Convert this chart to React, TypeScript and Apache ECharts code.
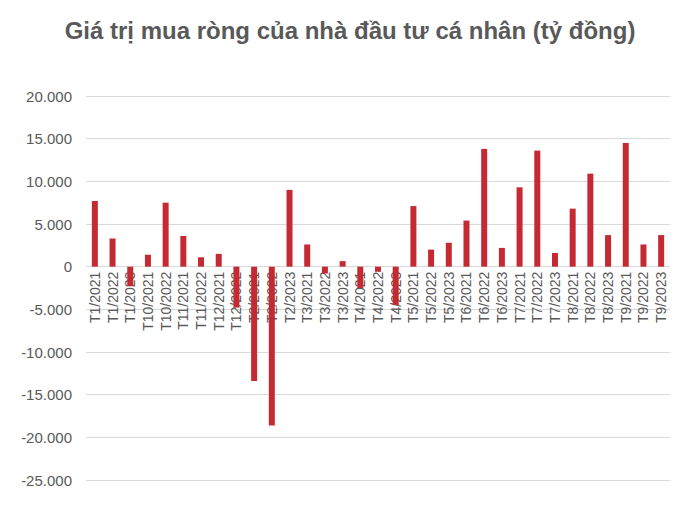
import React, { useEffect, useRef } from "react";
import * as echarts from "echarts";

const categories = [
  "T1/2021", "T1/2022", "T1/2023", "T10/2021", "T10/2022", "T11/2021", "T11/2022",
  "T12/2021", "T12/2022", "T2/2021", "T2/2022", "T2/2023", "T3/2021", "T3/2022",
  "T3/2023", "T4/2021", "T4/2022", "T4/2023", "T5/2021", "T5/2022", "T5/2023",
  "T6/2021", "T6/2022", "T6/2023", "T7/2021", "T7/2022", "T7/2023", "T8/2021",
  "T8/2022", "T8/2023", "T9/2021", "T9/2022", "T9/2023",
];

const netBuyValues = [
  7700, 3300, -2300, 1400, 7500, 3600, 1100,
  1500, -4800, -13400, -18600, 9000, 2600, -800,
  650, -2500, -600, -4500, 7100, 2000, 2800,
  5400, 13800, 2200, 9300, 13600, 1600, 6800,
  10900, 3700, 14500, 2600, 3700,
];

const titleText = "Giá trị mua ròng của nhà đầu tư cá nhân (tỷ đồng)";

const Y_MIN = -25000;
const Y_MAX = 20000;
const GRID_TOP = 96;
const GRID_BOTTOM = 43;
const CHART_H = 523;

function formatThousands(v: number): string {
  const s = Math.abs(v).toString().replace(/\B(?=(\d{3})+(?!\d))/g, ".");
  return (v < 0 ? "-" : "") + s;
}

export default function App() {
  const ref = useRef<HTMLDivElement>(null);

  useEffect(() => {
    document.body.style.margin = "0";
    if (!ref.current) return;
    const chart = echarts.init(ref.current, null, { renderer: "svg" });
    const plotH = CHART_H - GRID_TOP - GRID_BOTTOM;
    const zeroFromBottom = (plotH * (0 - Y_MIN)) / (Y_MAX - Y_MIN);
    chart.setOption({
      animation: false,
      backgroundColor: "#ffffff",
      title: {
        text: titleText,
        left: "center",
        top: 13,
        textStyle: {
          fontFamily: "Liberation Sans, Arial, sans-serif",
          fontSize: 24,
          fontWeight: "bold",
          color: "#595959",
        },
      },
      grid: {
        left: 86,
        right: 30,
        top: GRID_TOP,
        bottom: GRID_BOTTOM,
        containLabel: false,
        outerBoundsMode: "none",
      },
      xAxis: {
        type: "category",
        data: categories,
        offset: -zeroFromBottom,
        z: 0,
        axisLine: { show: false },
        axisTick: { show: false },
        axisLabel: {
          interval: 0,
          rotate: 90,
          margin: 5,
          fontFamily: "Liberation Sans, Arial, sans-serif",
          fontSize: 14,
          color: "#595959",
        },
      },
      yAxis: {
        type: "value",
        min: Y_MIN,
        max: Y_MAX,
        interval: 5000,
        axisLine: { show: false },
        axisTick: { show: false },
        splitLine: { lineStyle: { color: "#d9d9d9", width: 1 } },
        axisLabel: {
          margin: 14,
          fontFamily: "Liberation Sans, Arial, sans-serif",
          fontSize: 15,
          color: "#595959",
          formatter: (v: number) => formatThousands(v),
        },
      },
      series: [
        {
          type: "bar",
          data: netBuyValues,
          barWidth: 6,
          z: 10,
          itemStyle: { color: "#C52A33" },
        },
      ],
    });
    return () => chart.dispose();
  }, []);

  return (
    <div
      ref={ref}
      style={{ position: "fixed", left: 0, top: 0, width: 700, height: CHART_H }}
    />
  );
}
